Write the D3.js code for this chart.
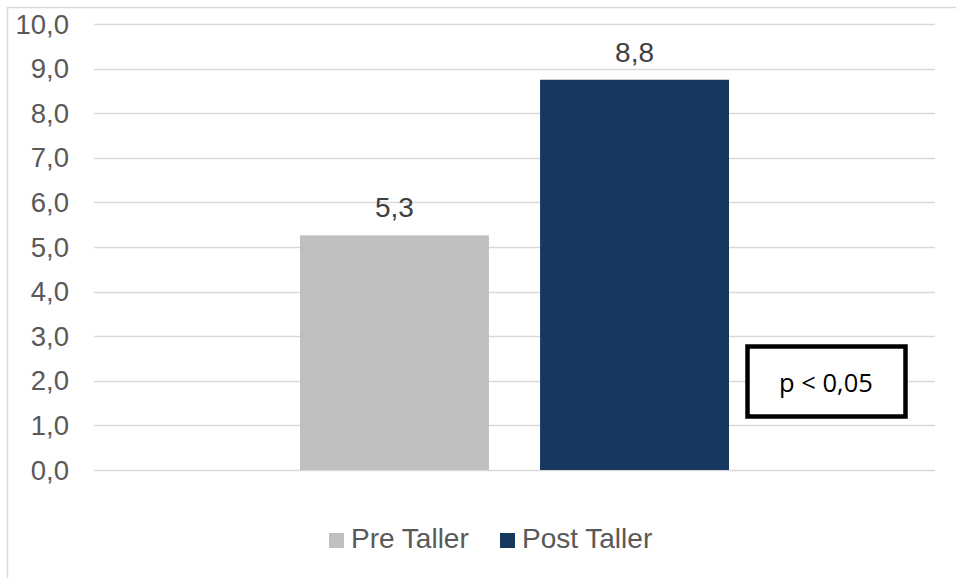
<!DOCTYPE html>
<html>
<head>
<meta charset="utf-8">
<script src="https://cdn.jsdelivr.net/npm/d3@7"></script>
<style>
  html, body { margin: 0; padding: 0; background: #fff; }
  svg { display: block; font-family: "Liberation Sans", Arial, sans-serif; }
</style>
</head>
<body>
<div id="chart"></div>
<script>
// Pre vs post workshop score, one grouped category, fixed 0–10 axis.
const series = ['Pre Taller', 'Post Taller'];
const values = [5.26, 8.75];
const colors = ['#BFBFBF', '#17375E'];
const yTicks = [0, 1, 2, 3, 4, 5, 6, 7, 8, 9, 10];
const note = 'p < 0,05';

const W = 956, H = 578;
const fmt = (v) => d3.format('.1f')(v).replace('.', ',');

const svg = d3.select('#chart').append('svg')
  .attr('width', W).attr('height', H);

// chart frame (runs off the right and bottom edge)
svg.append('rect')
  .attr('x', 7.5).attr('y', 7.5)
  .attr('width', W + 20).attr('height', H + 20)
  .attr('fill', 'none')
  .attr('stroke', '#D9D9D9')
  .attr('stroke-width', 1.5);

const plot = { left: 94, right: 935, top: 24, bottom: 470 };

const y = d3.scaleLinear().domain([0, 10]).range([plot.bottom, plot.top]);
const x = d3.scaleBand().domain(series)
  .range([300, 729]).paddingInner(0.213);

// gridlines
svg.append('g').selectAll('line')
  .data(yTicks)
  .join('line')
  .attr('x1', plot.left).attr('x2', plot.right)
  .attr('y1', (d) => Math.round(y(d)) + 0.5)
  .attr('y2', (d) => Math.round(y(d)) + 0.5)
  .attr('stroke', '#D9D9D9')
  .attr('stroke-width', 1.5);

// y tick labels
svg.append('g').selectAll('text')
  .data(yTicks)
  .join('text')
  .attr('x', 69)
  .attr('y', (d) => y(d))
  .attr('dy', '0.35em')
  .attr('text-anchor', 'end')
  .attr('font-size', 27.5)
  .attr('fill', '#595959')
  .text(fmt);

// bars
svg.append('g').selectAll('rect')
  .data(series)
  .join('rect')
  .attr('x', (d) => x(d))
  .attr('width', x.bandwidth())
  .attr('y', (d, i) => y(values[i]))
  .attr('height', (d, i) => y(0) - y(values[i]))
  .attr('fill', (d, i) => colors[i]);

// data labels
svg.append('g').selectAll('text')
  .data(series)
  .join('text')
  .attr('x', (d) => x(d) + x.bandwidth() / 2)
  .attr('y', (d, i) => y(values[i]) - 18)
  .attr('text-anchor', 'middle')
  .attr('font-size', 28)
  .attr('fill', '#404040')
  .text((d, i) => fmt(values[i]));

// significance box
const nb = svg.append('g');
nb.append('rect')
  .attr('x', 747.5).attr('y', 346.5)
  .attr('width', 158).attr('height', 70)
  .attr('fill', '#fff')
  .attr('stroke', '#000')
  .attr('stroke-width', 4.5);
nb.append('text')
  .attr('x', 826).attr('y', 392)
  .attr('text-anchor', 'middle')
  .attr('font-family', '"Open Sans", "Noto Sans", sans-serif')
  .attr('font-size', 25.5)
  .attr('fill', '#000')
  .text(note);

// legend
const legendX = [329, 500];
const lg = svg.append('g').selectAll('g')
  .data(series)
  .join('g')
  .attr('transform', (d, i) => `translate(${legendX[i]},533)`);
lg.append('rect')
  .attr('width', 15).attr('height', 15)
  .attr('fill', (d, i) => colors[i]);
lg.append('text')
  .attr('x', 22).attr('y', 15)
  .attr('font-size', 28)
  .attr('fill', '#595959')
  .text((d) => d);
</script>
</body>
</html>
